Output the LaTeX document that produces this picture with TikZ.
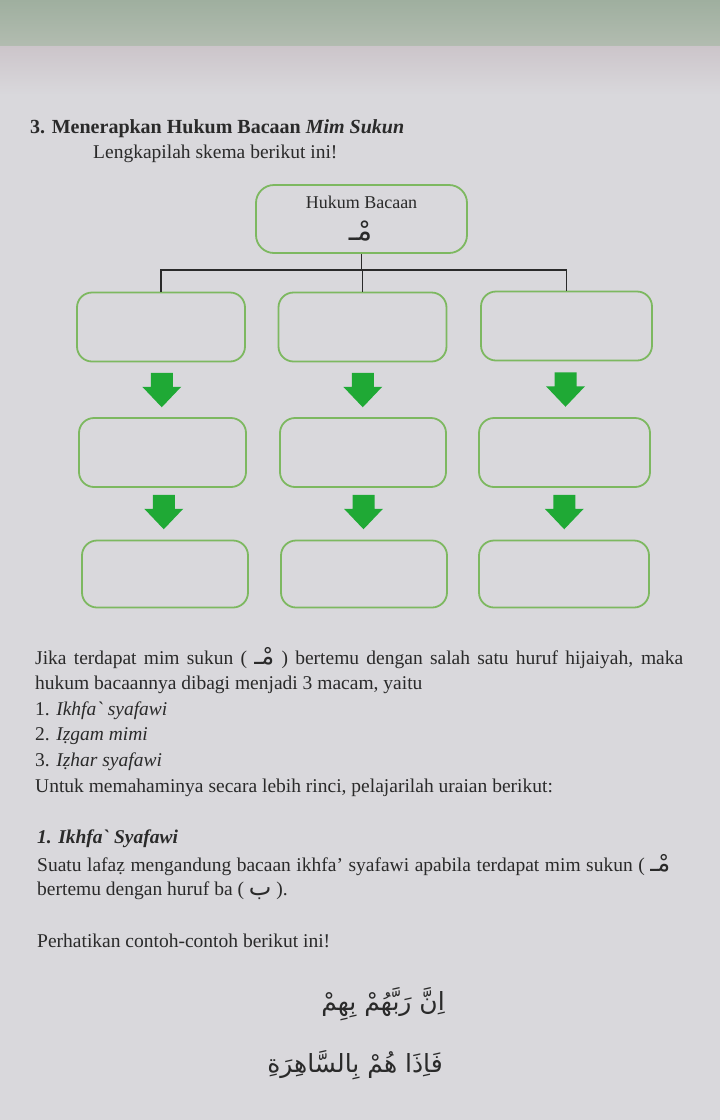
\documentclass[tikz,border=0pt]{standalone}
\usepackage{fontspec}
\setmainfont{Liberation Serif}
\newfontfamily\rawserif{Liberation Serif}
\newfontfamily\arabicfont[Script=Arabic]{DejaVu Sans}
\TeXXeTstate=1
\usetikzlibrary{calc}
\definecolor{pagebg}{HTML}{D9D8DC}
\definecolor{topband}{HTML}{9FAF9F}
\definecolor{topband2}{HTML}{B2BCB0}
\definecolor{fadeA}{HTML}{CCC5CA}
\definecolor{boxgreen}{HTML}{7DB860}
\definecolor{arrowgreen}{HTML}{1FA935}
\definecolor{ink}{HTML}{2A2A2A}
\newcommand{\mimsukun}{{\arabicfont\beginR مْـ\endR}}
\newcommand{\gravemark}{{\rawserif`}}
\tikzset{
  box/.style={draw=boxgreen, line width=1.8pt, rounded corners=15pt,
    minimum width=168pt, minimum height=69pt, inner sep=0pt},
  txt/.style={anchor=base west, inner sep=0pt, text=ink,
    font=\fontsize{19.5}{24}\selectfont},
  tree/.style={draw=ink, line width=1.4pt},
  garrow/.pic={\fill[arrowgreen] (-11,-17) -- (11,-17) -- (11,-3) -- (19.5,-3)
    -- (0,17.5) -- (-19.5,-3) -- (-11,-3) -- cycle;}
}
\begin{document}
\begin{tikzpicture}[x=1pt,y=-1pt]
\useasboundingbox (0,0) rectangle (720,1120);
% page background
\fill[pagebg] (0,0) rectangle (720,1120);
\shade[top color=topband, bottom color=topband2] (0,0) rectangle (720,46);
\shade[top color=fadeA, bottom color=pagebg] (0,46) rectangle (720,95);

% heading
\node[txt, font=\fontsize{20}{24}\selectfont\bfseries] (title) at (30,133)
  {3. Menerapkan Hukum Bacaan \textit{Mim Sukun}};
\node[txt] (instr) at (93,158) {Lengkapilah skema berikut ini!};

% scheme
\node[box, minimum width=211pt, minimum height=68pt, rounded corners=18pt] (top) at (361.5,219) {};
\node[anchor=base, inner sep=0pt, text=ink, font=\fontsize{18}{22}\selectfont] (toplabel)
  at ($(top.north)+(0,24)$) {Hukum Bacaan};
\node[inner sep=0pt, text=ink, font=\fontsize{28}{30}\selectfont] (topmim)
  at ($(top.center)+(-1,12)$) {\mimsukun};

\node[box] (b1) at (161,327) {};
\node[box] (b2) at (362.5,327) {};
\node[box, minimum width=171pt] (b3) at (566.5,326) {};
\node[box, minimum width=167pt] (c1) at (162.5,452.5) {};
\node[box, minimum width=166pt] (c2) at (363,452.5) {};
\node[box, minimum width=171pt] (c3) at (564.5,452.5) {};
\node[box, minimum width=166pt, minimum height=67pt] (d1) at (165,574) {};
\node[box, minimum width=166pt, minimum height=67pt] (d2) at (364,574) {};
\node[box, minimum width=170pt, minimum height=67pt] (d3) at (564,574) {};

\coordinate (bar) at (0,270);
\draw[tree] (top.south) -- (top.south |- bar);
\draw[tree] (b1.north) -- (b1.north |- bar) -- (b3.north |- bar) -- (b3.north);
\draw[tree] (b2.north) -- (b2.north |- bar);

\pic at ($(b1.south)!0.5!(c1.north)$) {garrow};
\pic at ($(b2.south)!0.5!(c2.north)$) {garrow};
\pic at ($(b3.south)!0.5!(c3.north)$) {garrow};
\pic at ($(c1.south)!0.5!(d1.north)+(0,-2)$) {garrow};
\pic at ($(c2.south)!0.5!(d2.north)+(0,-2)$) {garrow};
\pic at ($(c3.south)!0.5!(d3.north)+(0,-2)$) {garrow};

% text
\node[txt] (l1) at (35,664) {\makebox[648pt][s]{Jika terdapat mim sukun ( {\fontsize{24}{24}\selectfont\mimsukun} ) bertemu dengan salah satu huruf hijaiyah, maka}};
\node[txt] (l2) at (35,689) {hukum bacaannya dibagi menjadi 3 macam, yaitu};
\node[txt] (l3) at (35,715) {1. \textit{Ikhfa\gravemark\ syafawi}};
\node[txt] (l4) at (35,740) {2. \textit{Iẓgam mimi}};
\node[txt] (l5) at (35,766) {3. \textit{Iẓhar syafawi}};
\node[txt] (l6) at (35,792) {Untuk memahaminya secara lebih rinci, pelajarilah uraian berikut:};

\node[txt, font=\fontsize{19.5}{24}\selectfont\bfseries\itshape] (h1) at (37,843) {1. Ikhfa\gravemark\ Syafawi};
\node[txt] (p1) at (37,871) {\makebox[633pt][s]{Suatu lafaẓ mengandung bacaan ikhfa’ syafawi apabila terdapat mim sukun ( {\fontsize{24}{24}\selectfont\mimsukun}}};
\node[txt] (p2) at (37,895) {bertemu dengan huruf ba ( {\fontsize{24}{24}\selectfont\arabicfont\beginR ب\endR} ).};
\node[txt] (p3) at (37,947) {Perhatikan contoh-contoh berikut ini!};

\node[anchor=base east, inner sep=0pt, text=ink, font=\fontsize{25}{30}\selectfont] (ex1)
  at (445,1010) {\arabicfont\beginR اِنَّ رَبَّهُمْ بِهِمْ\endR};
\node[anchor=base east, inner sep=0pt, text=ink, font=\fontsize{25}{30}\selectfont] (ex2)
  at (443,1072) {\arabicfont\beginR فَاِذَا هُمْ بِالسَّاهِرَةِ\endR};
\end{tikzpicture}
\end{document}
